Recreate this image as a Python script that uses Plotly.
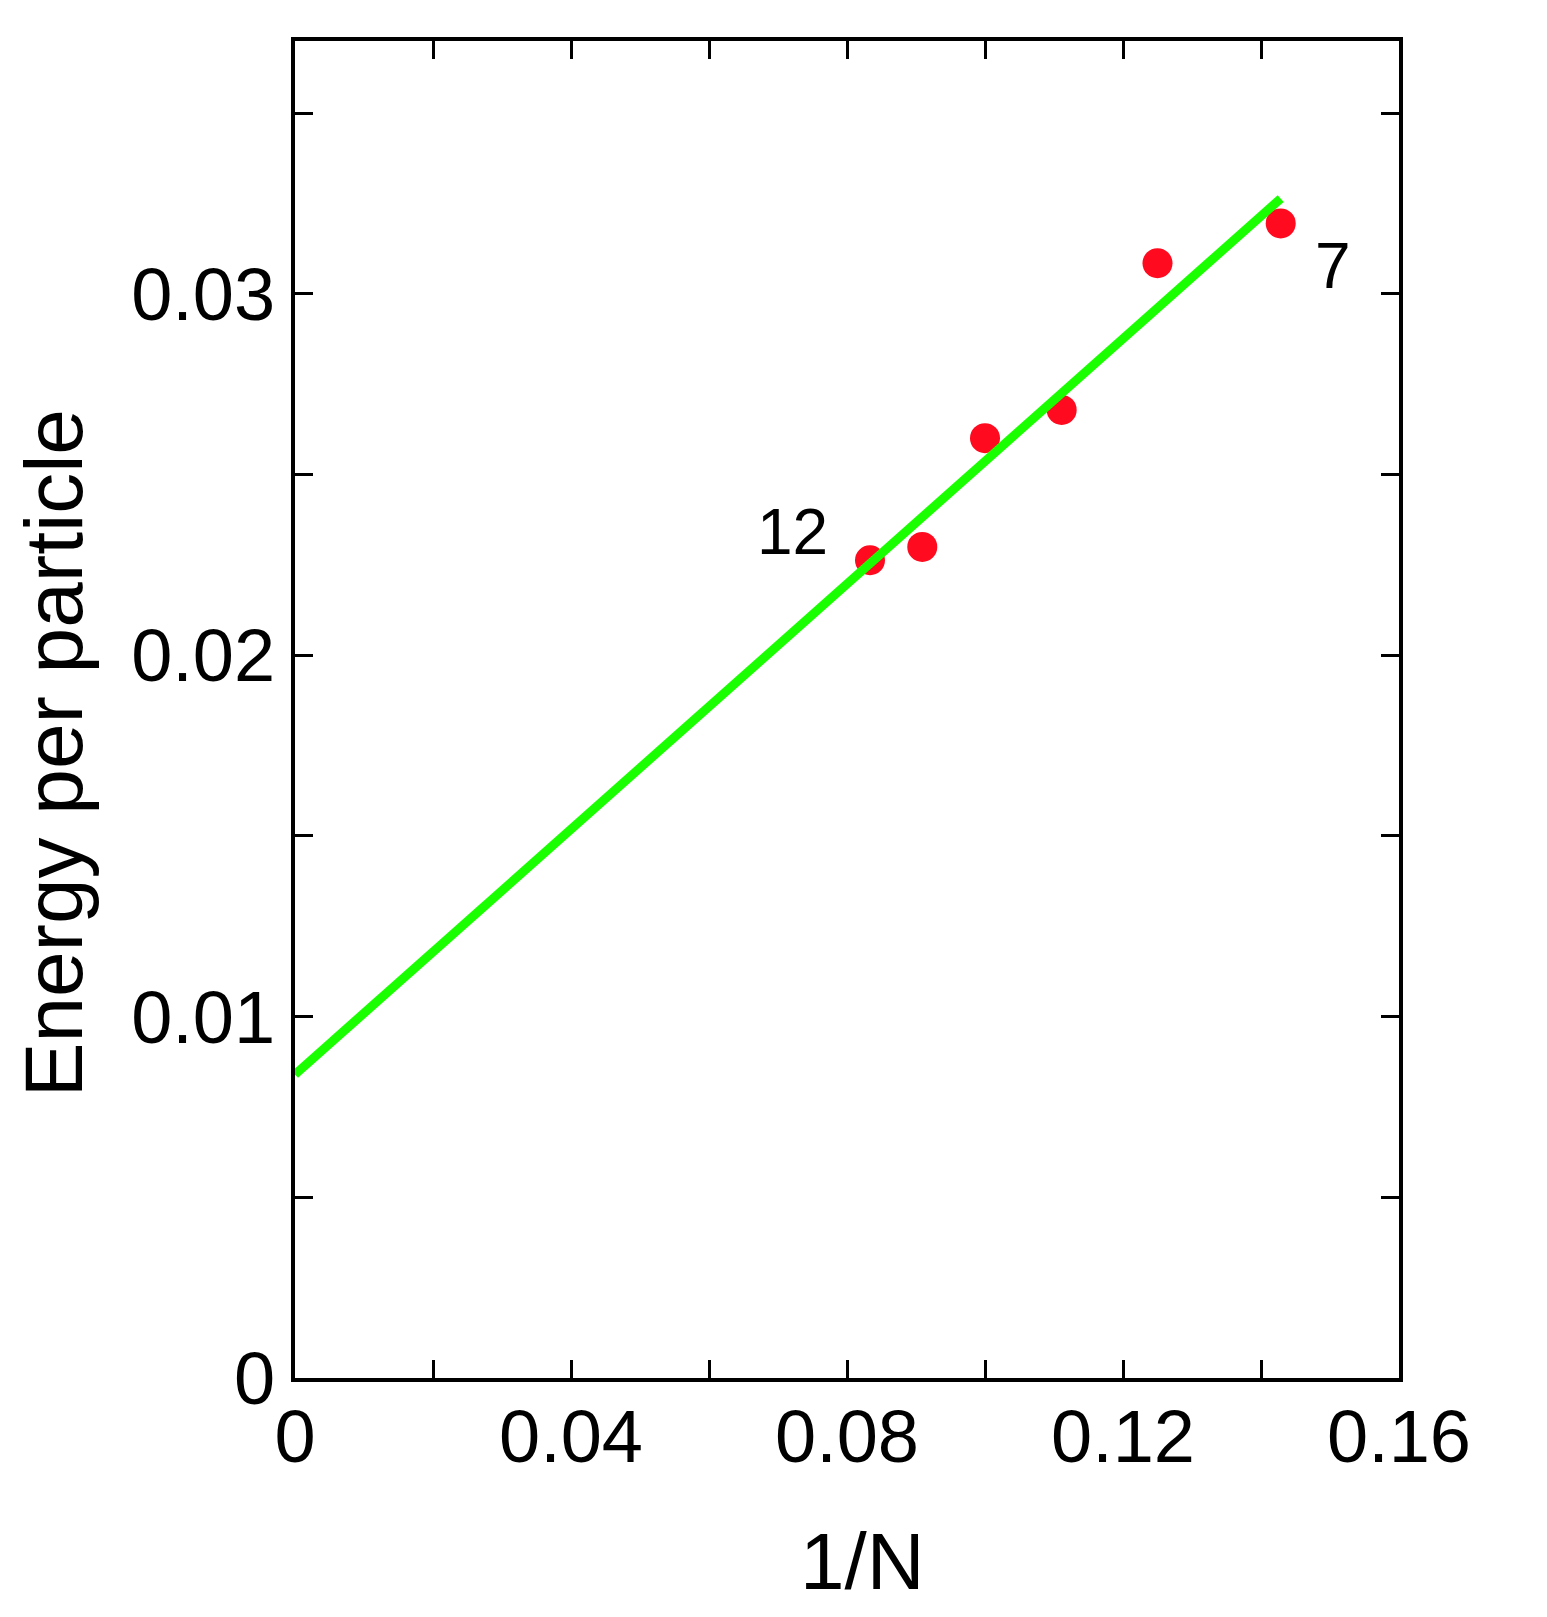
import plotly.graph_objects as go

# Data
N_values = [7, 8, 9, 10, 11, 12]
inv_N = [1 / n for n in N_values]
energy = [0.03195, 0.03085, 0.02679, 0.02601, 0.02300, 0.02263]

fit_x = [0.0, 1 / 7]
fit_y = [0.0084, 0.03264]

x_tickvals = [0, 0.02, 0.04, 0.06, 0.08, 0.10, 0.12, 0.14, 0.16]
x_ticktext = ["0", "", "0.04", "", "0.08", "", "0.12", "", "0.16"]
y_tickvals = [0, 0.005, 0.01, 0.015, 0.02, 0.025, 0.03, 0.035]
y_ticktext = ["0", "", "0.01", "", "0.02", "", "0.03", ""]

point_labels = ["12", "7"]
point_label_x = [0.0721, 0.1504]
point_label_y = [0.0234, 0.03078]

FONT = "Liberation Sans, Arial, Helvetica, sans-serif"

fig = go.Figure()
fig.add_trace(go.Scatter(
    x=inv_N, y=energy, mode="markers",
    marker=dict(color="#ff0a1e", size=30, line=dict(width=0)),
    showlegend=False, cliponaxis=False,
))
fig.add_trace(go.Scatter(
    x=fit_x, y=fit_y, mode="lines",
    line=dict(color="#1aff00", width=9),
    showlegend=False,
))

for t, x, y in zip(point_labels, point_label_x, point_label_y):
    fig.add_annotation(x=x, y=y, text=t, showarrow=False,
                       font=dict(family=FONT, size=64, color="black"),
                       xanchor="center", yanchor="middle")

fig.add_annotation(xref="paper", yref="paper", x=-0.2180, y=0.4675,
                   text="Energy per particle", textangle=-90, showarrow=False,
                   font=dict(family=FONT, size=82, color="black"),
                   xanchor="center", yanchor="middle")
fig.add_annotation(xref="paper", yref="paper", x=0.514, y=-0.1374,
                   text="1/N", showarrow=False,
                   font=dict(family=FONT, size=80, color="black"),
                   xanchor="center", yanchor="middle")

axis_common = dict(
    showgrid=False, zeroline=False, showline=True, linecolor="black",
    linewidth=4, mirror="allticks", ticks="inside", ticklen=18,
    tickwidth=3, tickcolor="black",
    tickfont=dict(family=FONT, size=74, color="black"),
)

fig.update_xaxes(range=[0, 0.16], tickmode="array", tickvals=x_tickvals,
                 ticktext=x_ticktext, ticklabelstandoff=-9, **axis_common)
fig.update_yaxes(range=[0, 0.037], tickmode="array", tickvals=y_tickvals,
                 ticktext=y_ticktext, ticklabelstandoff=1, **axis_common)

# page body has an 8px margin, so compensate
fig.update_layout(
    width=1531, height=1601,
    margin=dict(l=287, r=140, t=33, b=231),
    plot_bgcolor="white", paper_bgcolor="white",
)

fig.write_html("out.html")
